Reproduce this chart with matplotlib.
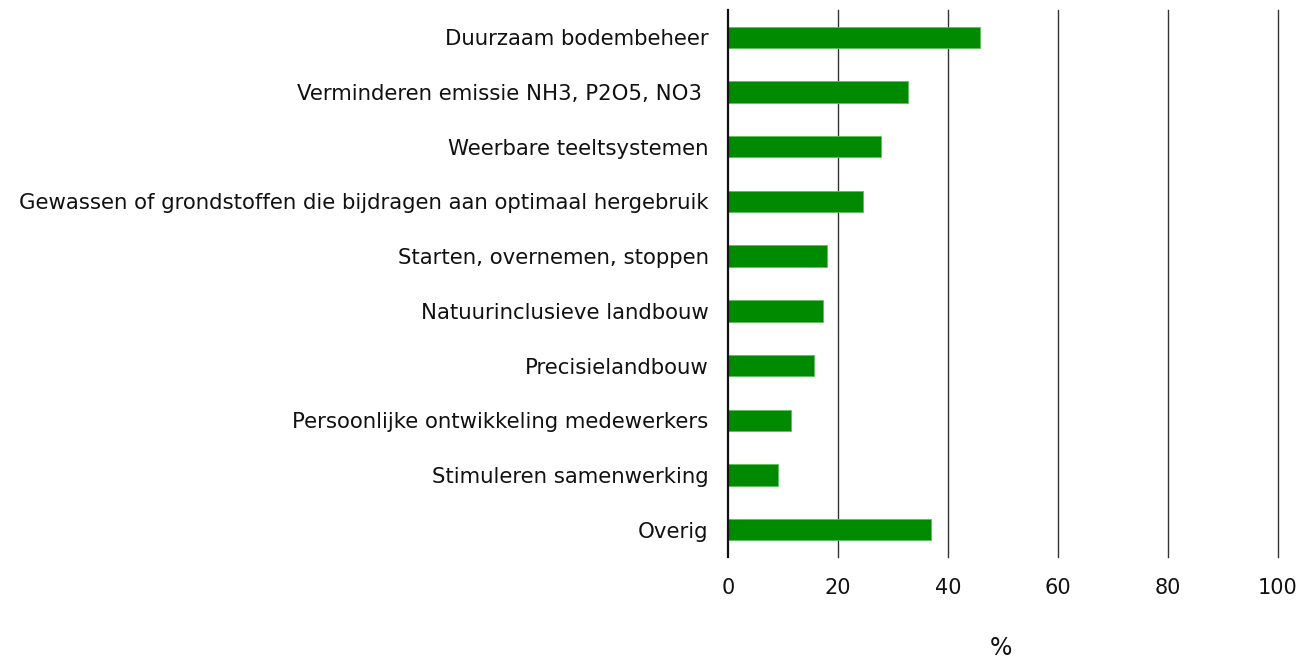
import matplotlib
matplotlib.use("Agg")
import matplotlib.pyplot as plt

categories = [
    "Duurzaam bodembeheer",
    "Verminderen emissie NH3, P2O5, NO3 ",
    "Weerbare teeltsystemen",
    "Gewassen of grondstoffen die bijdragen aan optimaal hergebruik",
    "Starten, overnemen, stoppen",
    "Natuurinclusieve landbouw",
    "Precisielandbouw",
    "Persoonlijke ontwikkeling medewerkers",
    "Stimuleren samenwerking",
    "Overig",
]
values = [45.9, 32.8, 27.9, 24.6, 18.0, 17.2, 15.6, 11.5, 9.0, 36.9]
xticks = [0, 20, 40, 60, 80, 100]

fig = plt.figure(figsize=(13.03, 6.58), dpi=100)
ax = fig.add_axes([728/1303, 1-557/658, 550/1303, 547/658])

ypos = list(range(len(categories)))
ax.barh(ypos, values, height=0.39, color="#008a00", edgecolor="#5cc05c", linewidth=0.6, zorder=3)
ax.set_ylim(len(categories) - 0.5, -0.5)
ax.set_xlim(0, 100)
ax.set_yticks(ypos)
ax.set_yticklabels(categories, fontsize=15.3, color="#111111")
ax.set_xticks(xticks)
ax.set_xticklabels([str(t) for t in xticks], fontsize=15, color="#111111")
ax.tick_params(axis="y", length=0, pad=14)
ax.tick_params(axis="x", length=0, pad=15)
for t in xticks[1:]:
    ax.axvline(t, color="#333333", linewidth=1.0, zorder=1, clip_on=False)
for s in ["top", "right", "bottom"]:
    ax.spines[s].set_visible(False)
ax.spines["left"].set_color("#111111")
ax.spines["left"].set_linewidth(1.6)
ax.spines["left"].set_zorder(4)

fig.text(1001/1303, 1-648/658, "%", fontsize=17, ha="center", va="center", color="#111111")

fig.savefig("out.png", dpi=100)
